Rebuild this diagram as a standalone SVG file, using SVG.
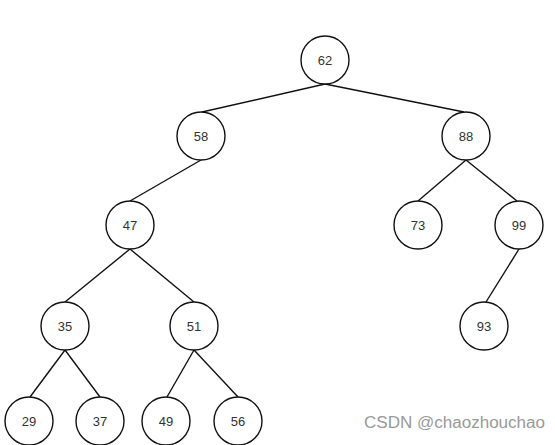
<svg xmlns="http://www.w3.org/2000/svg" width="555" height="445" viewBox="0 0 555 445">
<style>
.n circle{fill:#fff;stroke:#111;stroke-width:1.4}
.n text{font-family:"Liberation Sans",Arial,sans-serif;font-size:13px;fill:#333;text-anchor:middle;dominant-baseline:central}
#edges line{stroke:#111;stroke-width:1.4}
.wm{font-family:"Liberation Sans",Arial,sans-serif;font-size:16px;fill:#999}
</style>
<rect width="555" height="445" fill="#fff"/>
<g id="edges">
<line x1="325" y1="84" x2="202" y2="112"/>
<line x1="325" y1="84" x2="464" y2="112"/>
<line x1="201" y1="160" x2="130" y2="201"/>
<line x1="466" y1="160" x2="418" y2="201"/>
<line x1="466" y1="160" x2="517" y2="201"/>
<line x1="130" y1="249" x2="65" y2="302"/>
<line x1="130" y1="249" x2="194" y2="302"/>
<line x1="519" y1="249" x2="486" y2="302"/>
<line x1="65" y1="350" x2="30" y2="397"/>
<line x1="65" y1="350" x2="100" y2="397"/>
<line x1="194" y1="350" x2="167" y2="397"/>
<line x1="194" y1="350" x2="238" y2="397"/>
</g>
<g id="n62" class="n"><circle cx="325" cy="60" r="24"/><text x="325" y="60">62</text></g>
<g id="n58" class="n"><circle cx="201" cy="136" r="24"/><text x="201" y="136">58</text></g>
<g id="n88" class="n"><circle cx="466" cy="136" r="24"/><text x="466" y="136">88</text></g>
<g id="n47" class="n"><circle cx="130" cy="225" r="24"/><text x="130" y="225">47</text></g>
<g id="n73" class="n"><circle cx="418" cy="225" r="24"/><text x="418" y="225">73</text></g>
<g id="n99" class="n"><circle cx="519" cy="225" r="24"/><text x="519" y="225">99</text></g>
<g id="n35" class="n"><circle cx="65" cy="326" r="24"/><text x="65" y="326">35</text></g>
<g id="n51" class="n"><circle cx="194" cy="326" r="24"/><text x="194" y="326">51</text></g>
<g id="n93" class="n"><circle cx="484" cy="326" r="24"/><text x="484" y="326">93</text></g>
<g id="n29" class="n"><circle cx="29" cy="421" r="24"/><text x="29" y="421">29</text></g>
<g id="n37" class="n"><circle cx="100" cy="421" r="24"/><text x="100" y="421">37</text></g>
<g id="n49" class="n"><circle cx="166" cy="421" r="24"/><text x="166" y="421">49</text></g>
<g id="n56" class="n"><circle cx="238" cy="421" r="24"/><text x="238" y="421">56</text></g>
<text class="wm" x="364" y="428" textLength="181" lengthAdjust="spacingAndGlyphs">CSDN @chaozhouchao</text>
</svg>
